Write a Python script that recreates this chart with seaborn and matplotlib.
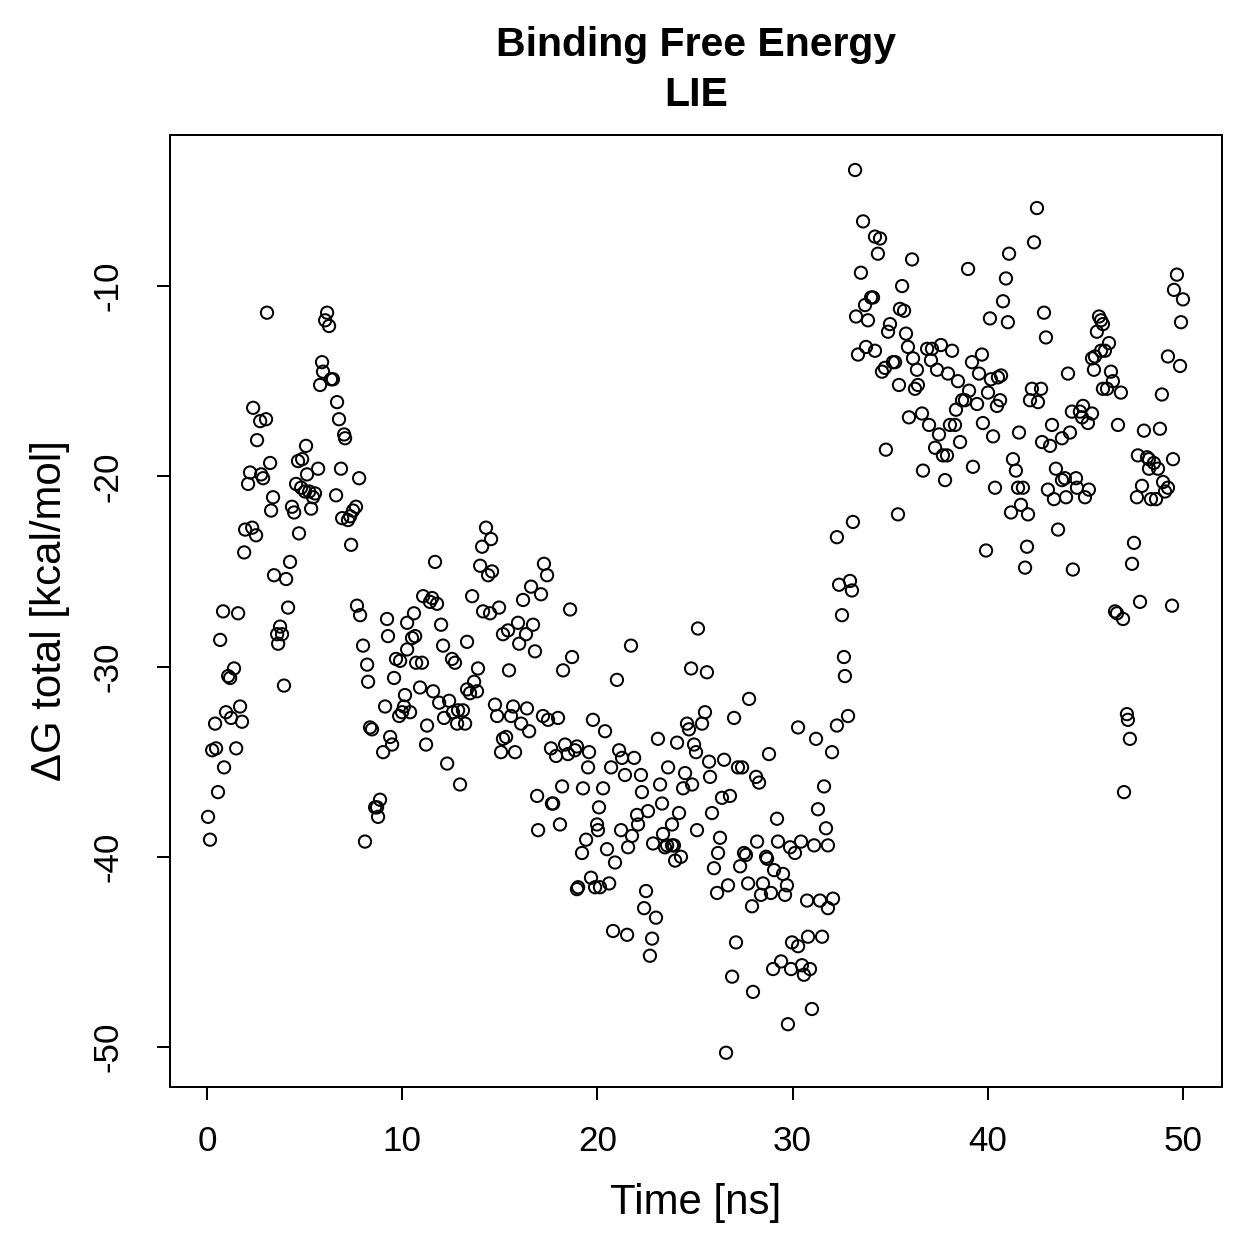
import numpy as np
import pandas as pd
import matplotlib
matplotlib.use("Agg")
import matplotlib.pyplot as plt
import seaborn as sns

# values (time in ns, dG in kcal/mol)
time_ns = [
    0.05, 0.15, 0.26, 0.41, 0.46, 0.56, 0.67, 0.82, 0.87, 0.97, 1.08, 1.18, 1.23, 1.38, 1.49, 1.59, 1.69, 1.79,
    1.90, 1.95, 2.10, 2.20, 2.31, 2.36, 2.51, 2.56, 2.72, 2.77, 2.87, 3.02, 3.07, 3.23, 3.28, 3.38, 3.43, 3.59,
    3.64, 3.74, 3.84, 3.94, 4.05, 4.15, 4.25, 4.35, 4.46, 4.56, 4.66, 4.71, 4.82, 4.87,
    5.02, 5.07, 5.12, 5.23, 5.33, 5.43, 5.53, 5.69, 5.79, 5.89, 5.94, 6.05, 6.15, 6.25, 6.35, 6.45, 6.61, 6.66,
    6.76, 6.86, 6.92, 7.02, 7.07, 7.22, 7.33, 7.38, 7.48, 7.63, 7.68, 7.79, 7.84, 7.99, 8.09, 8.20, 8.25, 8.35,
    8.45, 8.61, 8.71, 8.76, 8.86, 9.02, 9.12, 9.22, 9.27, 9.38, 9.48, 9.58, 9.68, 9.84, 9.89, 9.99,
    10.09, 10.14, 10.25, 10.25, 10.40, 10.50, 10.60, 10.66, 10.71, 10.91, 11.01, 11.07, 11.22, 11.27, 11.42,
    11.53, 11.58, 11.68, 11.78, 11.89, 11.99, 12.09, 12.14, 12.30, 12.40, 12.55, 12.60, 12.70, 12.81, 12.86,
    12.96, 13.11, 13.22, 13.32, 13.32, 13.47, 13.58, 13.68, 13.83, 13.88, 13.99, 14.09, 14.14, 14.29, 14.40,
    14.50, 14.55, 14.60, 14.75, 14.86, 14.96,
    15.06, 15.16, 15.16, 15.32, 15.42, 15.47, 15.57, 15.68, 15.78, 15.93, 15.99, 16.09, 16.19, 16.34, 16.39,
    16.50, 16.60, 16.70, 16.80, 16.91, 16.96, 17.11, 17.21, 17.26, 17.42, 17.47, 17.62, 17.67, 17.73, 17.88,
    17.98, 18.08, 18.19, 18.24, 18.34, 18.49, 18.60, 18.70, 18.85, 18.95, 18.95, 19.01, 19.21, 19.26, 19.42,
    19.52, 19.57, 19.67, 19.77, 19.88, 19.98,
    20.03, 20.08, 20.13, 20.29, 20.39, 20.49, 20.60, 20.70, 20.80, 20.90, 21.00, 21.11, 21.21, 21.26, 21.41,
    21.52, 21.57, 21.72, 21.77, 21.88, 22.03, 22.08, 22.23, 22.28, 22.39, 22.49, 22.59, 22.69, 22.80, 22.85,
    23.00, 23.10, 23.21, 23.31, 23.36, 23.46, 23.57, 23.62, 23.82, 23.82, 23.92, 23.98, 24.08, 24.18, 24.28,
    24.39, 24.49, 24.59, 24.69, 24.80, 24.85, 24.95,
    25.05, 25.10, 25.15, 25.36, 25.51, 25.61, 25.72, 25.77, 25.87, 25.97, 26.13, 26.18, 26.28, 26.38, 26.49,
    26.59, 26.69, 26.79, 26.90, 27.00, 27.10, 27.20, 27.31, 27.41, 27.51, 27.61, 27.72, 27.77, 27.92, 27.97,
    28.13, 28.18, 28.28, 28.38, 28.48, 28.64, 28.69, 28.79, 28.89, 29.00, 29.05, 29.20, 29.25, 29.41, 29.51,
    29.61, 29.71, 29.76, 29.87, 29.92, 29.97,
    30.12, 30.28, 30.28, 30.43, 30.48, 30.58, 30.74, 30.79, 30.89, 30.99, 31.10, 31.20, 31.30, 31.40, 31.51,
    31.61, 31.71, 31.81, 31.81, 32.02, 32.07, 32.27, 32.27, 32.38, 32.53, 32.63, 32.68, 32.84, 32.94, 33.04,
    33.09, 33.20, 33.25, 33.35, 33.50, 33.61, 33.71, 33.76, 33.86, 34.02, 34.12, 34.22, 34.22, 34.37, 34.48,
    34.58, 34.73, 34.78, 34.89, 34.99, 35.14, 35.25,
    35.40, 35.45, 35.50, 35.61, 35.71, 35.81, 35.91, 35.96, 36.12, 36.17, 36.27, 36.37, 36.42, 36.63, 36.68,
    36.89, 36.99, 37.09, 37.14, 37.30, 37.40, 37.50, 37.60, 37.70, 37.81, 37.91, 37.96, 38.06, 38.17, 38.32,
    38.37, 38.47, 38.58, 38.68, 38.83, 38.99, 39.04, 39.19, 39.24, 39.45, 39.55, 39.70, 39.75, 39.91,
    40.01, 40.11, 40.16, 40.27, 40.37, 40.47, 40.52, 40.63, 40.68, 40.78, 40.93, 41.03, 41.09, 41.19, 41.29,
    41.44, 41.55, 41.60, 41.70, 41.80, 41.91, 42.01, 42.06, 42.16, 42.26, 42.37, 42.52, 42.57, 42.73, 42.78,
    42.88, 42.98, 43.08, 43.19, 43.29, 43.39, 43.49, 43.60, 43.80, 43.80, 43.95, 44.01, 44.11, 44.21, 44.31,
    44.36, 44.52, 44.57, 44.72, 44.83, 44.88, 44.98,
    45.13, 45.18, 45.34, 45.34, 45.44, 45.49, 45.59, 45.70, 45.80, 45.80, 45.90, 45.90, 46.00, 46.11, 46.21,
    46.31, 46.41, 46.52, 46.62, 46.67, 46.82, 46.93, 46.98, 47.13, 47.18, 47.28, 47.39, 47.49, 47.64, 47.69,
    47.80, 47.90, 48.00, 48.16, 48.26, 48.26, 48.36, 48.51, 48.62, 48.72, 48.82, 48.92, 48.98, 49.08, 49.23,
    49.23, 49.44, 49.49, 49.54, 49.69, 49.85, 49.90, 50.00,
]

dg_total = [
    -37.9, -39.1, -34.4, -33.0, -34.3, -36.6, -28.6, -27.1, -35.3, -32.4, -30.5, -30.6, -32.7, -30.1, -34.3, -27.2, -32.1, -32.9,
    -24.0, -22.8, -20.4, -19.8, -22.7, -16.4, -23.1, -18.1, -17.1, -19.9, -20.1, -17.0, -11.4, -19.3, -21.8, -21.1, -25.2, -28.3,
    -28.8, -27.9, -28.3, -31.0, -25.4, -26.9, -24.5, -21.6, -21.9, -20.4, -19.2, -23.0, -20.6, -19.1,
    -20.8, -18.4, -19.9, -20.8, -21.7, -21.1, -20.9, -19.6, -15.2, -14.0, -14.5, -11.8, -11.4, -12.1, -14.9, -14.9, -21.0, -16.1,
    -17.0, -19.6, -22.2, -17.8, -18.0, -22.3, -22.1, -23.6, -21.8, -21.6, -26.8, -20.1, -27.3, -28.9, -39.2, -29.9, -30.8, -33.2,
    -33.3, -37.4, -37.4, -37.9, -37.0, -34.5, -32.1, -27.5, -28.4, -33.7, -34.1, -30.6, -29.6, -32.6, -29.7, -32.4,
    -32.1, -31.5, -29.1, -27.7, -32.4, -28.5, -27.2, -28.4, -29.8, -31.1, -29.8, -26.3, -34.1, -33.1, -26.6,
    -26.4, -31.3, -24.5, -26.7, -31.9, -27.8, -28.9, -32.7, -35.1, -31.8, -29.6, -32.4, -29.8, -33.0, -32.3,
    -36.2, -32.3, -33.0, -28.7, -31.2, -31.4, -26.3, -30.8, -31.3, -30.1, -24.7, -23.7, -27.1, -22.7, -25.2,
    -27.2, -23.3, -25.0, -32.0, -32.6, -26.9,
    -34.5, -28.3, -33.8, -33.7, -28.1, -30.2, -32.6, -32.1, -34.5, -27.7, -28.8, -33.0, -26.5, -28.3, -32.2,
    -33.4, -25.8, -27.8, -29.2, -36.8, -38.6, -26.2, -32.6, -24.6, -25.2, -32.8, -34.3, -37.2, -37.2, -34.7,
    -32.7, -38.3, -36.3, -30.2, -34.1, -34.6, -27.0, -29.5, -34.4, -34.2, -41.7, -41.6, -39.8, -36.4, -39.1,
    -35.3, -34.5, -41.1, -32.8, -41.6, -38.3,
    -38.6, -37.4, -41.6, -36.4, -33.4, -39.6, -41.4, -35.3, -43.9, -40.3, -30.7, -34.4, -38.6, -34.8, -35.7,
    -44.1, -39.5, -28.9, -38.9, -34.8, -37.8, -38.3, -35.7, -36.6, -42.7, -41.8, -37.6, -45.2, -44.3, -39.3,
    -43.2, -33.8, -36.2, -37.2, -38.8, -39.5, -39.4, -35.3, -39.4, -38.3, -39.4, -40.2, -34.0, -37.7, -40.0,
    -36.4, -35.6, -33.0, -33.3, -30.1, -36.2, -34.1,
    -34.5, -38.6, -28.0, -33.0, -32.4, -30.3, -35.0, -35.8, -37.7, -40.6, -41.9, -39.8, -39.0, -36.9, -34.9,
    -50.3, -41.5, -36.8, -46.3, -32.7, -44.5, -35.3, -40.5, -35.3, -39.8, -39.9, -41.4, -31.7, -42.6, -47.1,
    -35.8, -39.2, -36.1, -42.0, -41.4, -40.0, -40.1, -34.6, -41.9, -45.9, -40.7, -38.0, -39.2, -45.5, -40.9,
    -42.0, -41.5, -48.8, -39.5, -45.9, -44.5,
    -39.8, -33.2, -44.7, -39.2, -45.7, -46.2, -42.3, -44.2, -45.9, -48.0, -39.4, -33.8, -37.5, -42.3, -44.2,
    -36.3, -38.5, -39.4, -42.7, -34.5, -42.2, -23.2, -33.1, -25.7, -27.3, -29.5, -30.5, -32.6, -25.5, -26.0,
    -22.4, -3.9, -11.6, -13.6, -9.3, -6.6, -11.0, -13.2, -11.8, -10.6, -10.6, -7.4, -13.4, -8.3, -7.5,
    -14.5, -14.3, -18.6, -12.4, -12.0, -14.0, -14.0,
    -22.0, -15.2, -11.2, -10.0, -11.3, -12.5, -13.2, -16.9, -8.6, -13.8, -15.4, -14.4, -15.2, -16.7, -19.7,
    -13.3, -17.3, -13.9, -13.3, -18.5, -14.4, -17.8, -13.1, -18.9, -20.2, -18.9, -14.6, -17.3, -13.4, -17.3,
    -16.5, -15.0, -18.2, -16.0, -16.0, -9.1, -15.5, -14.0, -19.5, -16.2, -14.6, -13.6, -17.2, -23.9,
    -15.6, -11.7, -14.9, -17.9, -20.6, -16.3, -14.8, -16.0, -14.7, -10.8, -9.6, -11.9, -8.3, -21.9, -19.1,
    -19.7, -20.6, -17.7, -21.5, -20.6, -24.8, -23.7, -22.0, -16.0, -15.4, -7.7, -5.9, -16.1, -15.4, -18.2,
    -11.4, -12.7, -20.7, -18.4, -17.3, -21.2, -19.6, -22.8, -20.2, -18.0, -20.1, -21.1, -14.6, -17.7, -16.6,
    -24.9, -20.1, -20.6, -16.6, -16.9, -16.3, -21.1,
    -17.2, -20.7, -16.7, -13.8, -14.4, -13.7, -12.4, -11.6, -11.8, -13.4, -12.0, -15.4, -13.4, -15.4, -13.0,
    -14.5, -15.0, -27.1, -27.2, -17.3, -15.6, -27.5, -36.6, -32.5, -32.8, -33.8, -24.6, -23.5, -21.1, -18.9,
    -26.6, -20.5, -17.6, -19.0, -19.1, -19.6, -21.2, -19.3, -21.2, -19.6, -17.5, -15.7, -20.3, -20.8, -20.6,
    -13.7, -26.8, -19.1, -10.2, -9.4, -14.2, -11.9, -10.7,
]

x_ticks = [0, 10, 20, 30, 40, 50]
y_ticks = [-50, -40, -30, -20, -10]
y_tick_labels = ["-50", "-40", "-30", "-20", "-10"]

df = pd.DataFrame({"time": time_ns, "dg": dg_total})

sns.set_style("white")
plt.rcParams["font.family"] = ["Liberation Sans", "DejaVu Sans"]
plt.rcParams["text.color"] = "black"
plt.rcParams["axes.labelcolor"] = "black"

W = 1259
fig = plt.figure(figsize=(W / 180, W / 180), dpi=180)
ax = fig.add_axes([170 / W, 172 / W, 1052 / W, 952 / W])

sns.scatterplot(data=df, x="time", y="dg", ax=ax, marker="o", s=24,
                facecolor="none", edgecolor="black", linewidth=0.8)

ax.set_xlim(-1.9, 52.0)
ax.set_ylim(-52.1, -2.06)
ax.set_xticks(x_ticks)
ax.set_yticks(y_ticks)
ax.set_yticklabels(y_tick_labels)

for side in ["top", "right", "bottom", "left"]:
    ax.spines[side].set_visible(True)
    ax.spines[side].set_color("black")
    ax.spines[side].set_linewidth(0.8)

ax.tick_params(axis="both", direction="out", length=5.2, width=0.8, color="black",
               labelsize=14, labelcolor="black", bottom=True, left=True)
ax.tick_params(axis="x", pad=10)
ax.tick_params(axis="y", pad=13)
for lab in ax.get_yticklabels():
    lab.set_rotation(90)
    lab.set_va("center")

ax.set_xlabel("Time [ns]", fontsize=16.8, color="black")
ax.xaxis.label.set_va("center")
ax.xaxis.set_label_coords(0.5, -(1203 - 1087) / 952)
ax.set_ylabel("ΔG total [kcal/mol]", fontsize=16.8, color="black")
ax.yaxis.label.set_va("center")
ax.yaxis.set_label_coords(-(170 - 50) / 1052, 0.5)

fig.text(696 / W, 1 - 45 / W, "Binding Free Energy", ha="center", va="center",
         fontsize=16.4, fontweight="bold", color="black")
fig.text(696 / W, 1 - 95 / W, "LIE", ha="center", va="center",
         fontsize=16.4, fontweight="bold", color="black")

fig.savefig("out.png", dpi=180, facecolor="white")
